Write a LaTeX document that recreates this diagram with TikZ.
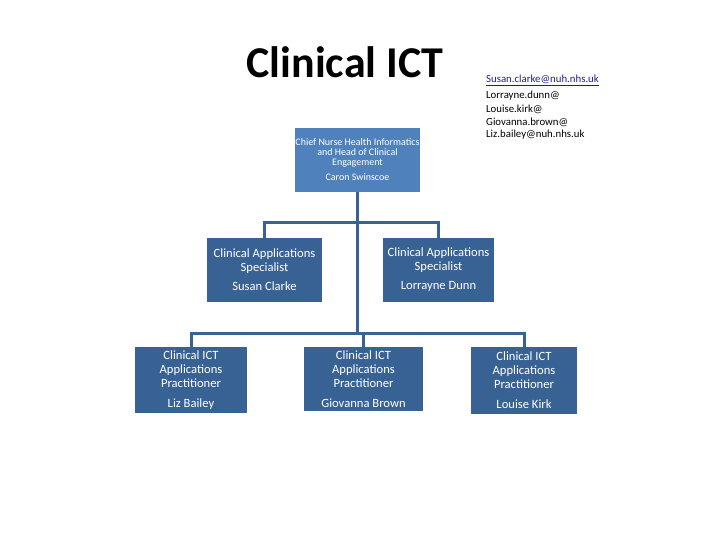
\documentclass[tikz,border=0pt]{standalone}
\usepackage{fontspec}
\setmainfont{Carlito}
\definecolor{topblue}{RGB}{79,129,189}
\definecolor{boxblue}{RGB}{57,98,148}
\definecolor{linkblue}{RGB}{30,30,150}
\tikzset{
  box/.style={draw=none, fill=boxblue, text=white, align=center, inner sep=0pt,
    font=\fontsize{12.6}{14}\selectfont},
  topbox/.style={box, fill=topblue, font=\fontsize{10}{10}\selectfont},
  wire/.style={draw=boxblue, line width=3pt},
  mail/.style={anchor=west, inner sep=0pt, font=\fontsize{10.8}{11}\selectfont}
}
\begin{document}
\begin{tikzpicture}[x=1pt,y=-1pt]
\useasboundingbox (0,0) rectangle (720,540);
\node[font=\bfseries\fontsize{44}{48}\selectfont, inner sep=0pt] (title) at (345,62) {Clinical ICT};
% emails
\node[mail, text=linkblue] (m1) at (486,80) {\underline{Susan.clarke@nuh.nhs.uk}};
\node[mail] (m2) at (486,96) {Lorrayne.dunn@};
\node[mail] (m3) at (486,109) {Louise.kirk@};
\node[mail] (m4) at (486,122) {Giovanna.brown@};
\node[mail] (m5) at (486,135) {Liz.bailey@nuh.nhs.uk};
% boxes
\node[topbox, minimum width=123, minimum height=64] (ceo) at (357.5,160)
  {Chief Nurse Health Informatics\\and Head of Clinical\\Engagement\\[5pt]Caron Swinscoe};
\node[box, minimum width=115, minimum height=64] (sc) at (264.5,270)
  {Clinical Applications\\Specialist\\[5pt]Susan Clarke};
\node[box, minimum width=111, minimum height=64] (ld) at (438.5,270)
  {Clinical Applications\\Specialist\\[5pt]Lorrayne Dunn};
\node[box, minimum width=112, minimum height=66] (lb) at (191,380)
  {Clinical ICT\\Applications\\Practitioner\\[6pt]Liz Bailey};
\node[box, minimum width=119, minimum height=64] (gb) at (363.5,379)
  {Clinical ICT\\Applications\\Practitioner\\[6pt]Giovanna Brown};
\node[box, minimum width=106, minimum height=67] (lk) at (524,380.5)
  {Clinical ICT\\Applications\\Practitioner\\[6pt]Louise Kirk};
% connectors
\coordinate (bus1) at (357.5,223);
\coordinate (bus2) at (357.5,333);
\draw[wire] (ceo.south) -- (bus2);
\draw[wire] (sc.north) -- (sc.north |- bus1) -- (ld.north |- bus1) -- (ld.north);
\draw[wire] (lb.north) -- (lb.north |- bus2) -- (lk.north |- bus2) -- (lk.north);
\draw[wire] (gb.north) -- (gb.north |- bus2);
\end{tikzpicture}
\end{document}
